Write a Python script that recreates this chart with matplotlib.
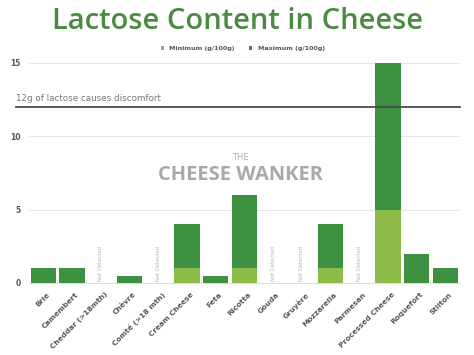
import matplotlib
matplotlib.use("Agg")
import matplotlib.pyplot as plt
import numpy as np

cheeses = ["Brie", "Camembert", "Cheddar (>18mth)", "Chèvre", "Comté (>18 mth)",
           "Cream Cheese", "Feta", "Ricotta", "Gouda", "Gruyère", "Mozzarella",
           "Parmesan", "Processed Cheese", "Roquefort", "Stilton"]
minimum = [0, 0, 0, 0, 0, 1.0, 0, 1.0, 0, 0, 1.0, 0, 5.0, 0, 0]
maximum = [1.0, 1.0, 0, 0.5, 0, 4.0, 0.5, 6.0, 0, 0, 4.0, 0, 15.0, 2.0, 1.0]
not_detected = [False, False, True, False, True, False, False, False, True, True,
                False, True, False, False, False]
threshold = 12
yticks = [0, 5, 10, 15]

LIGHT = "#8dbb48"
DARK = "#3e9140"
TITLE = "#4b8a41"

fig = plt.figure(figsize=(4.74, 3.55), dpi=100)
fig.patch.set_facecolor("white")
ax = fig.add_axes([0.061, 0.203, 0.909, 0.620])

x = np.arange(len(cheeses))
ax.bar(x, maximum, width=0.88, color=DARK, zorder=3, label="Maximum (g/100g)")
ax.bar(x, minimum, width=0.88, color=LIGHT, zorder=4, label="Minimum (g/100g)")

for i, nd in enumerate(not_detected):
    if nd:
        ax.text(i, 0.15, "Not Detected", rotation=90, fontsize=3.8, color="#b5b5b5",
                ha="center", va="bottom", zorder=5)

ax.set_xlim(-0.5, len(cheeses) - 0.5)
ax.set_ylim(0, 15)
ax.set_yticks(yticks)
ax.set_yticklabels([str(t) for t in yticks], fontsize=5.5, fontweight="bold", color="#555555")
ax.yaxis.grid(True, color="#e6e6e6", linewidth=0.7, zorder=0)
ax.set_axisbelow(True)
for s in ["top", "right", "left"]:
    ax.spines[s].set_visible(False)
ax.spines["bottom"].set_color("#dddddd")
ax.tick_params(axis="y", length=0, pad=6)
ax.tick_params(axis="x", length=0, pad=6)
ax.set_xticks(x + 0.12)
ax.set_xticklabels(cheeses, rotation=45, ha="right", rotation_mode="anchor",
                   fontsize=5.3, fontweight="bold", color="#555555")

# threshold line
ax.plot([-0.95, 14.5], [threshold, threshold], color="#4a4a4a", linewidth=1.3,
        clip_on=False, zorder=6)
ax.text(-0.95, threshold + 0.25, "12g of lactose causes discomfort", fontsize=6.3,
        color="#777777", ha="left", va="bottom")

# watermark
fig.text(0.508, 0.555, "THE", fontsize=6, color="#b0b0b0", ha="center", va="center")
fig.text(0.508, 0.507, "CHEESE WANKER", fontsize=14.5, fontweight="bold", color="#a9a9a9",
         ha="center", va="center", family="Open Sans")

fig.text(0.5, 0.94, "Lactose Content in Cheese", fontsize=21, color=TITLE,
         ha="center", va="center", family="Open Sans", fontweight="semibold")

handles, labels = ax.get_legend_handles_labels()
leg = fig.legend(handles[::-1], labels[::-1], loc="center", bbox_to_anchor=(0.512, 0.862),
                 ncol=2, frameon=False, fontsize=4.6, handlelength=0.45, handleheight=0.45,
                 columnspacing=2.2, handletextpad=0.9)
for t in leg.get_texts():
    t.set_color("#555555")
    t.set_fontweight("bold")

fig.savefig("out.png", dpi=100, facecolor="white")
